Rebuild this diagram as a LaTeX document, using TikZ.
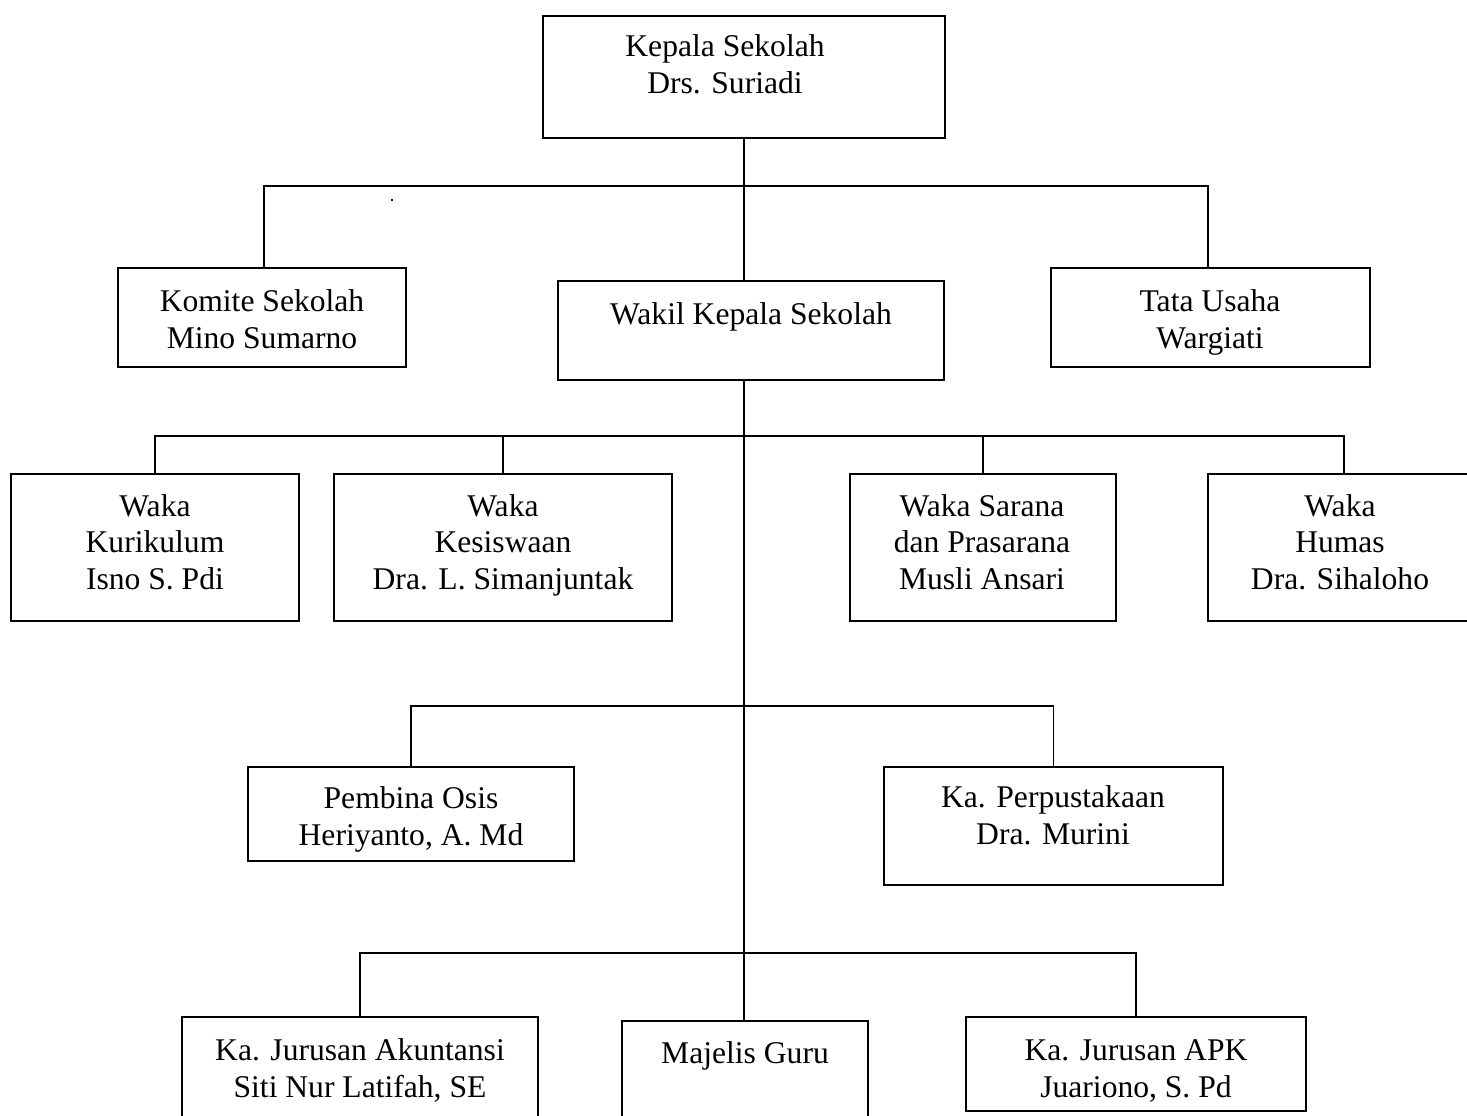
\documentclass[tikz,border=0pt]{standalone}
\usepackage{fontspec}
\setmainfont{Liberation Serif}
\usetikzlibrary{fit}
\tikzset{
  box/.style={draw, line width=0.9pt, inner sep=0pt, rectangle},
  txt/.style={align=center, inner sep=0pt, text height=10.8pt, text depth=0.3pt, font=\fontsize{15.8pt}{18.3pt}\selectfont},
  conn/.style={line width=0.9pt},
}
\begin{document}
\begin{tikzpicture}[x=0.5pt, y=-0.5pt]
\useasboundingbox (0,0) rectangle (1467,1115);
\clip (0,0) rectangle (1467,1115);
\fill[white] (0,0) rectangle (1467,1115);

% boxes
\node[box, fit={(543,16) (945,138)}] (kepala) {};
\node[box, fit={(118,268) (406,367)}] (komite) {};
\node[box, fit={(558,281) (944,380)}] (wakil) {};
\node[box, fit={(1051,268) (1370,367)}] (tata) {};
\node[box, fit={(11,474) (299,621)}] (kurikulum) {};
\node[box, fit={(334,474) (672,621)}] (kesiswaan) {};
\node[box, fit={(850,474) (1116,621)}] (sarana) {};
\node[box, fit={(1208,474) (1480,621)}] (humas) {};
\node[box, fit={(248,767) (574,861)}] (pembina) {};
\node[box, fit={(884,767) (1223,885)}] (perpus) {};
\node[box, fit={(182,1017) (538,1140)}] (akuntansi) {};
\node[box, fit={(622,1021) (868,1140)}] (majelis) {};
\node[box, fit={(966,1017) (1306,1111)}] (apk) {};

% texts (y = centre of the last line)
\node[txt] (kepala-t) at (725,83) {Kepala Sekolah\\Drs. Suriadi};
\node[txt] (komite-t) at (262,338) {Komite Sekolah\\Mino Sumarno};
\node[txt] (wakil-t) at (751,314) {Wakil Kepala Sekolah};
\node[txt] (tata-t) at (1210,338) {Tata Usaha\\Wargiati};
\node[txt] (kurikulum-t) at (155,579) {Waka\\Kurikulum\\Isno S. Pdi};
\node[txt] (kesiswaan-t) at (503,579) {Waka\\Kesiswaan\\Dra. L. Simanjuntak};
\node[txt] (sarana-t) at (982,579) {Waka Sarana\\dan Prasarana\\Musli Ansari};
\node[txt] (humas-t) at (1340,579) {Waka\\Humas\\Dra. Sihaloho};
\node[txt] (pembina-t) at (411,835) {Pembina Osis\\Heriyanto, A. Md};
\node[txt] (perpus-t) at (1053,834) {Ka. Perpustakaan\\Dra. Murini};
\node[txt] (akuntansi-t) at (360,1087) {Ka. Jurusan Akuntansi\\Siti Nur Latifah, SE};
\node[txt] (majelis-t) at (745,1053) {Majelis Guru};
\node[txt] (apk-t) at (1136,1087) {Ka. Jurusan APK\\Juariono, S. Pd};

% stray dot
\node[fill, inner sep=0pt, minimum size=1.4pt] (dot) at (392,200) {};

% junctions
\coordinate (j1) at (744,186);
\coordinate (j2) at (744,436);
\coordinate (j3) at (744,706);
\coordinate (j4) at (744,953);

% connectors
\draw[conn] (kepala.south -| j1) -- (j1);
\draw[conn] (komite.north -| 264,0) |- (j1) -| (tata.north -| 1208,0);
\draw[conn] (j1) -- (wakil.north -| j1);
\draw[conn] (wakil.south -| j1) -- (majelis.north -| j1);
\draw[conn] (kurikulum.north) |- (j2) -| (humas.north);
\draw[conn] (kesiswaan.north) -- (kesiswaan.north |- j2);
\draw[conn] (sarana.north) -- (sarana.north |- j2);
\draw[conn] (pembina.north) |- (j3) -| (perpus.north);
\draw[conn] (akuntansi.north) |- (j4) -| (apk.north);
\end{tikzpicture}
\end{document}
